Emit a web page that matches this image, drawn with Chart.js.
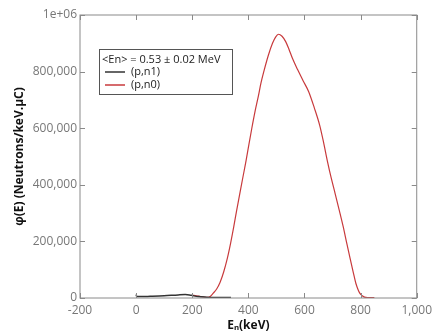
<!DOCTYPE html>
<html>
<head>
<meta charset="utf-8">
<script src="https://cdn.jsdelivr.net/npm/chart.js@4"></script>
<style>
  html, body { margin: 0; padding: 0; background: #fff; }
  #wrap { width: 437px; height: 333px; }
</style>
</head>
<body>
<div id="wrap"><canvas id="spectrum"></canvas></div>
<script>
// (p,n0) spectrum
const n0Energy = [200, 215, 230, 245, 257, 265, 275, 287, 299, 312, 325, 337, 348, 358, 369, 380, 392, 402, 412, 424, 436, 445, 455, 471, 486, 497, 507, 520, 533, 545, 557, 575, 595, 615, 635, 654, 668, 682, 695, 709, 724, 738, 751, 764, 774, 783, 790, 797, 806, 814, 825, 835, 849];
const n0Flux = [10000, 8000, 5000, 2500, 2000, 6000, 17000, 32000, 55000, 92000, 140000, 195000, 252000, 308000, 366000, 424000, 486000, 543000, 598000, 660000, 715000, 760000, 800000, 857000, 900000, 922000, 932000, 925000, 906000, 878000, 847000, 808000, 768000, 729000, 672000, 611000, 550000, 482000, 425000, 370000, 310000, 252000, 192000, 134000, 90000, 52000, 32000, 17000, 8000, 3000, 1500, 1500, 1000];

// (p,n1) spectrum
const n1Energy = [0, 2, 20, 50, 100, 150, 175, 190, 200, 220, 250, 300, 338];
const n1Flux = [12000, 5000, 5000, 6000, 8000, 11000, 12000, 11000, 9000, 5000, 3000, 2000, 1500];

const seriesLabels = ['(p,n1)', '(p,n0)'];
const legendTitle = '<En> = 0.53 ± 0.02 MeV';
const xTitle = 'Eₙ(keV)';
const yTitle = 'φ(E) (Neutrons/keV.μC)';

const toPoints = (xs, ys) => xs.map((x, i) => ({ x: x, y: ys[i] }));

const tickFont = { family: "'Open Sans', 'DejaVu Sans', sans-serif", size: 12 };
const titleFont = { family: "'Open Sans', 'DejaVu Sans', sans-serif", size: 12, weight: 'bold' };

// frame, inward ticks and the boxed legend
const framePlugin = {
    id: 'frame',
    afterDraw(chart) {
        const ctx = chart.ctx;
        const a = chart.chartArea;
        const xs = chart.scales.x, ys = chart.scales.y;
        ctx.save();
        ctx.strokeStyle = '#8a8a8a';
        ctx.lineWidth = 1;
        ctx.strokeRect(a.left, a.top, a.right - a.left, a.bottom - a.top);
        ctx.beginPath();
        xs.ticks.forEach(t => {
            const px = Math.round(xs.getPixelForValue(t.value)) + 0.5;
            ctx.moveTo(px, a.bottom); ctx.lineTo(px, a.bottom - 5);
            ctx.moveTo(px, a.top); ctx.lineTo(px, a.top + 5);
        });
        ys.ticks.forEach(t => {
            const py = Math.round(ys.getPixelForValue(t.value)) + 0.5;
            ctx.moveTo(a.left, py); ctx.lineTo(a.left + 5, py);
            ctx.moveTo(a.right, py); ctx.lineTo(a.right - 5, py);
        });
        ctx.stroke();

        // legend box
        const bx = 99.5, by = 49.5, bw = 133, bh = 45;
        ctx.fillStyle = '#fff';
        ctx.fillRect(bx, by, bw, bh);
        ctx.strokeStyle = '#555';
        ctx.strokeRect(bx, by, bw, bh);
        ctx.font = "11px 'Open Sans', 'DejaVu Sans', sans-serif";
        ctx.textBaseline = 'middle';
        ctx.fillStyle = '#222';
        ctx.fillText(legendTitle, 102, 60);
        chart.data.datasets.forEach((ds, i) => {
            const ly = 72 + i * 13;
            ctx.strokeStyle = ds.borderColor;
            ctx.lineWidth = 1.5;
            ctx.beginPath();
            ctx.moveTo(105, ly); ctx.lineTo(125, ly);
            ctx.stroke();
            ctx.fillStyle = '#222';
            ctx.fillText(ds.label, 131, ly);
        });
        ctx.restore();
    }
};

new Chart(document.getElementById('spectrum'), {
    type: 'line',
    data: {
        datasets: [{
            label: seriesLabels[0],
            data: toPoints(n1Energy, n1Flux),
            borderColor: '#333333',
            borderWidth: 1.5,
            pointRadius: 0,
            cubicInterpolationMode: 'monotone'
        }, {
            label: seriesLabels[1],
            data: toPoints(n0Energy, n0Flux),
            borderColor: '#c83a3c',
            borderWidth: 1.2,
            pointRadius: 0,
            cubicInterpolationMode: 'monotone'
        }]
    },
    options: {
        responsive: true,
        maintainAspectRatio: false,
        animation: false,
        layout: { padding: { top: 15, right: 16, left: 0, bottom: 0 } },
        plugins: {
            legend: { display: false },
            tooltip: { enabled: false }
        },
        scales: {
            x: {
                type: 'linear',
                min: -200,
                max: 1000,
                grid: { display: false, drawTicks: false },
                border: { display: false },
                ticks: {
                    stepSize: 200,
                    padding: 5,
                    color: '#777',
                    font: tickFont,
                    maxRotation: 0,
                    callback: v => v.toLocaleString('en-US')
                },
                title: { display: true, text: xTitle, color: '#111', font: titleFont, padding: { top: 0, bottom: 0 } },
                afterFit: s => { s.height = 35; }
            },
            y: {
                min: 0,
                max: 1000000,
                grid: { display: false, drawTicks: false },
                border: { display: false },
                ticks: {
                    stepSize: 200000,
                    padding: 3,
                    color: '#777',
                    font: tickFont,
                    callback: v => v === 1000000 ? '1e+06' : v.toLocaleString('en-US')
                },
                title: { display: true, text: yTitle, color: '#111', font: titleFont, padding: { top: 12, bottom: 0 } },
                afterFit: s => { s.width = 80; }
            }
        }
    },
    plugins: [framePlugin]
});
</script>
</body>
</html>
